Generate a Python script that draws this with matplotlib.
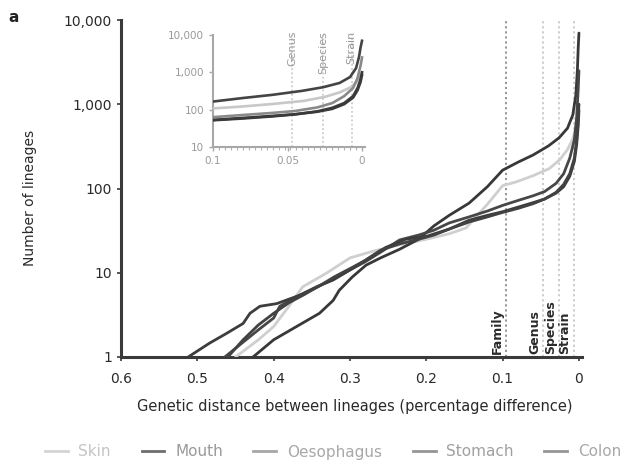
import matplotlib
matplotlib.use("Agg")
import matplotlib.pyplot as plt
from matplotlib.lines import Line2D
from matplotlib.ticker import NullLocator, MultipleLocator

# ---- data (distance, number of lineages) ----
series_names = ["Skin", "Mouth", "Oesophagus", "Stomach", "Colon"]

skin_x = [0.450, 0.420, 0.400, 0.380, 0.362, 0.330, 0.300, 0.270, 0.240, 0.200, 0.170,
          0.148, 0.120, 0.100, 0.082, 0.060, 0.039, 0.025, 0.015, 0.008, 0.004, 0.002, 0.000]
skin_y = [1, 1.6, 2.3, 4.0, 6.8, 10, 15, 18, 21, 25, 29,
          34, 65, 108, 120, 142, 172, 220, 290, 390, 530, 720, 1000]

mouth_x = [0.427, 0.400, 0.370, 0.340, 0.322, 0.314, 0.297, 0.279, 0.260, 0.235, 0.210, 0.190,
           0.170, 0.144, 0.120, 0.100, 0.080, 0.060, 0.040, 0.026, 0.015, 0.008, 0.004,
           0.002, 0.001, 0.000]
mouth_y = [1, 1.6, 2.3, 3.3, 4.7, 6.2, 8.9, 12.3, 15, 19, 25, 36,
           48, 67, 105, 165, 205, 250, 320, 400, 520, 750, 1300,
           2600, 4600, 7000]

oeso_x = [0.464, 0.440, 0.420, 0.400, 0.392, 0.370, 0.345, 0.320, 0.300, 0.280, 0.260, 0.235,
          0.210, 0.190, 0.170, 0.144, 0.120, 0.100, 0.080, 0.060, 0.045, 0.030, 0.020,
          0.012, 0.006, 0.003, 0.001, 0.000]
oeso_y = [1, 1.5, 2.1, 2.9, 4.0, 5.2, 6.6, 8.6, 10.8, 13.5, 17.5, 24.5,
          28, 32, 39, 46, 54, 63, 72, 82, 92, 115, 150,
          230, 380, 700, 1500, 2500]

stomach_x = [0.512, 0.484, 0.462, 0.440, 0.431, 0.418, 0.396, 0.366, 0.344, 0.322, 0.300,
             0.279, 0.253, 0.227, 0.200, 0.170, 0.144, 0.120, 0.100, 0.080, 0.060, 0.045,
             0.030, 0.020, 0.012, 0.006, 0.003, 0.001, 0.000]
stomach_y = [1, 1.46, 1.9, 2.5, 3.3, 4.0, 4.3, 5.4, 6.8, 8.2, 10.8,
             14.2, 20, 25, 27, 33, 42, 48, 53, 60, 68, 75,
             88, 105, 140, 210, 330, 550, 850]

colon_x = [0.460, 0.440, 0.420, 0.400, 0.380, 0.360, 0.340, 0.320, 0.300, 0.280, 0.260, 0.235,
           0.210, 0.190, 0.170, 0.144, 0.120, 0.100, 0.080, 0.060, 0.045, 0.030, 0.020,
           0.012, 0.006, 0.003, 0.001, 0.000]
colon_y = [1, 1.6, 2.4, 3.3, 4.4, 5.5, 7.0, 9.0, 11.2, 14, 18.5, 22,
           25, 28, 33, 40, 46, 52, 58, 66, 75, 90, 112,
           150, 230, 380, 650, 1000]

all_x = [skin_x, mouth_x, oeso_x, stomach_x, colon_x]
all_y = [skin_y, mouth_y, oeso_y, stomach_y, colon_y]

# taxonomic cut-offs
rank_names = ["Family", "Genus", "Species", "Strain"]
rank_dist = [0.095, 0.047, 0.026, 0.007]

main_xticks = [0.6, 0.5, 0.4, 0.3, 0.2, 0.1, 0]
main_xlabels = ["0.6", "0.5", "0.4", "0.3", "0.2", "0.1", "0"]
main_yticks = [1, 10, 100, 1000, 10000]
main_ylabels = ["1", "10", "100", "1,000", "10,000"]
inset_xticks = [0.1, 0.05, 0]
inset_xlabels = ["0.1", "0.05", "0"]
inset_yticks = [10, 100, 1000, 10000]
inset_ylabels = ["10", "100", "1,000", "10,000"]

# ---- styling ----
line_cols = ["#cfcfcf", "#383838", "#474747", "#3d3d3d", "#424242"]
inset_cols = ["#c8c8c8", "#444444", "#8a8a8a", "#3a3a3a", "#3a3a3a"]
legend_cols = ["#d4d4d4", "#6e6e6e", "#a6a6a6", "#959595", "#959595"]
legend_txt = ["#c4c4c4", "#9a9a9a", "#a8a8a8", "#a0a0a0", "#a8a8a8"]
rank_cols = ["#8c8c8c", "#c8c8c8", "#c8c8c8", "#c8c8c8"]
AX_COL = "#3a3a3a"

W, H = 634, 466
fig = plt.figure(figsize=(W / 100, H / 100), dpi=100)

# ==========================================
# main panel
# ==========================================
ax = fig.add_axes([121 / W, 1 - 357 / H, (582 - 121) / W, (357 - 20) / H])
ax.set_yscale("log")

for xd, rd, c in zip(rank_dist, rank_names, rank_cols):
    ax.axvline(xd, color=c, ls=(0, (1.2, 1.6)), lw=1.3, zorder=1)

for xs, ys, c in zip(all_x, all_y, line_cols):
    ax.plot(xs, ys, color=c, lw=2.0, solid_capstyle="round", zorder=3)

for xd, rd in zip(rank_dist, rank_names):
    ax.annotate(rd, (xd, 1), xytext=(-1.5, 2), textcoords="offset points",
                rotation=90, ha="right", va="bottom", fontsize=9,
                color="#2a2a2a", fontweight="bold")

ax.set_xlim(0.6, -0.004)
ax.set_ylim(1, 10000)
ax.set_xticks(main_xticks)
ax.set_xticklabels(main_xlabels)
ax.set_yticks(main_yticks)
ax.set_yticklabels(main_ylabels)
ax.yaxis.set_minor_locator(NullLocator())
ax.tick_params(axis="both", direction="out", length=3, width=1.2, colors=AX_COL,
               labelsize=10, labelcolor="#2a2a2a")
ax.tick_params(axis="x", pad=8)
for s in ["top", "right"]:
    ax.spines[s].set_visible(False)
for s in ["left", "bottom"]:
    ax.spines[s].set_color(AX_COL)
    ax.spines[s].set_linewidth(2.2)

fig.text(30 / W, 1 - 198 / H, "Number of lineages", rotation=90, ha="center", va="center",
         fontsize=10, color="#2a2a2a")
fig.text(355 / W, 1 - 407 / H, "Genetic distance between lineages (percentage difference)",
         ha="center", va="center", fontsize=10.5, color="#2a2a2a")
fig.text(14 / W, 1 - 17 / H, "a", ha="center", va="center", fontsize=11,
         fontweight="bold", color="#222222")

# ==========================================
# inset: zoom on the last 0.1
# ==========================================
axi = fig.add_axes([213 / W, 1 - 147 / H, 152 / W, 112 / H])
axi.set_yscale("log")

for xd, rd in zip(rank_dist[1:], rank_names[1:]):
    axi.axvline(xd, color="#c4c4c4", ls=(0, (1.2, 1.6)), lw=1.1, zorder=1)
    axi.annotate(rd, (xd, 10000), xytext=(0, 3), textcoords="offset points",
                 rotation=90, ha="center", va="top", fontsize=8, color="#999999")

for xs, ys, c in zip(all_x, all_y, inset_cols):
    axi.plot(xs, ys, color=c, lw=1.9, zorder=3)

axi.set_xlim(0.1, -0.002)
axi.set_ylim(10, 10000)
axi.set_xticks(inset_xticks)
axi.set_xticklabels(inset_xlabels)
axi.set_yticks(inset_yticks)
axi.set_yticklabels(inset_ylabels)
axi.yaxis.set_minor_locator(NullLocator())
axi.xaxis.set_minor_locator(MultipleLocator(0.004))
axi.tick_params(axis="both", which="major", direction="out", length=3, width=1,
                colors="#a8a8a8", labelsize=7.5, labelcolor="#999999")
axi.tick_params(axis="x", which="minor", direction="out", length=2, width=0.8, colors="#b0b0b0")
for s in ["top", "right"]:
    axi.spines[s].set_visible(False)
for s in ["left", "bottom"]:
    axi.spines[s].set_color("#a8a8a8")
    axi.spines[s].set_linewidth(1.5)

# ==========================================
# legend along the bottom
# ==========================================
handles = [Line2D([], [], color=c, lw=2) for c in legend_cols]
leg = fig.legend(handles, series_names, loc="center", bbox_to_anchor=(333 / W, 1 - 452 / H),
                 ncol=5, frameon=False, fontsize=11, handlelength=1.5, handletextpad=0.7,
                 columnspacing=2.0)
for t, c in zip(leg.get_texts(), legend_txt):
    t.set_color(c)

fig.savefig("out.png", dpi=100, facecolor="white")
